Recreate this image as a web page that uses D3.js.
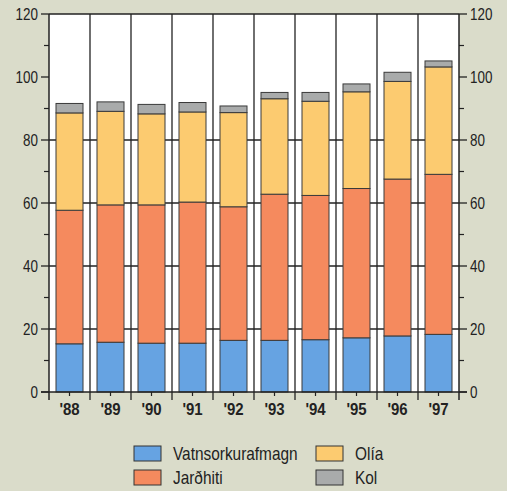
<!doctype html>
<html>
<head>
<meta charset="utf-8">
<style>
  body { margin: 0; background: #dadcca; }
  svg { display: block; }
  text { font-family: "Liberation Sans", Arial, sans-serif; fill: #222; }
</style>
<script src="https://d3js.org/d3.v7.min.js"></script>
</head>
<body>
<svg id="svg" width="507" height="491"></svg>
<script>
// data
var years = ["'88", "'89", "'90", "'91", "'92", "'93", "'94", "'95", "'96", "'97"];
var vatnsorka = [15.3, 15.8, 15.5, 15.5, 16.4, 16.4, 16.6, 17.2, 17.8, 18.3];
var jardhiti  = [42.4, 43.6, 43.9, 44.8, 42.4, 46.4, 45.8, 47.4, 49.8, 50.8];
var olia      = [30.9, 29.7, 28.9, 28.6, 29.9, 30.3, 29.9, 30.7, 31.0, 34.1];
var kol       = [3.0, 3.0, 3.0, 3.0, 2.1, 2.0, 2.8, 2.5, 2.9, 1.9];
var seriesNames = ["Vatnsorkurafmagn", "Jarðhiti", "Olía", "Kol"];
var colors = ["#66a3e2", "#f58a5e", "#fccb70", "#a9abab"];
var yTicks = [0, 20, 40, 60, 80, 100, 120];

var svg = d3.select("#svg");
var pLeft = 49, pRight = 459, pTop = 14, pBottom = 392;
var sx = 0.84; // squeeze text like the condensed face in the original

var x = d3.scaleBand().domain(years).range([pLeft, pRight]).paddingInner(0).paddingOuter(0);
var y = d3.scaleLinear().domain([0, 120]).range([pBottom, pTop]);

var table = years.map(function(yr, i) {
  return { year: yr, v: vatnsorka[i], j: jardhiti[i], o: olia[i], k: kol[i] };
});
var stack = d3.stack().keys(["v", "j", "o", "k"])(table);

function pos(px, py, s) { return "translate(" + px + "," + py + ") scale(" + (s || sx) + ",1)"; }

// plot background
svg.append("rect")
  .attr("x", pLeft).attr("y", pTop)
  .attr("width", pRight - pLeft).attr("height", pBottom - pTop)
  .attr("fill", "#fff");

// horizontal grid lines
svg.append("g").selectAll("line")
  .data([20, 40, 60, 80])
  .enter().append("line")
  .attr("x1", pLeft).attr("x2", pRight)
  .attr("y1", function(d) { return y(d); })
  .attr("y2", function(d) { return y(d); })
  .attr("stroke", "#222").attr("stroke-width", 1.3);

// vertical separators between years
svg.append("g").selectAll("line")
  .data(years.slice(1))
  .enter().append("line")
  .attr("x1", function(d) { return x(d); })
  .attr("x2", function(d) { return x(d); })
  .attr("y1", pTop).attr("y2", pBottom + 8)
  .attr("stroke", "#222").attr("stroke-width", 1.3);

// bars
var barW = 27;
svg.append("g").selectAll("g")
  .data(stack)
  .enter().append("g")
  .attr("fill", function(d, i) { return colors[i]; })
  .selectAll("rect")
  .data(function(d) { return d; })
  .enter().append("rect")
  .attr("x", function(d) { return x(d.data.year) + (x.bandwidth() - barW) / 2; })
  .attr("y", function(d) { return y(d[1]); })
  .attr("width", barW)
  .attr("height", function(d) { return y(d[0]) - y(d[1]); })
  .attr("stroke", "#3a3a3a").attr("stroke-width", 1);

// top border
svg.append("line")
  .attr("x1", pLeft).attr("x2", pRight)
  .attr("y1", pTop).attr("y2", pTop)
  .attr("stroke", "#222").attr("stroke-width", 1.3);

// axes
var minor = d3.range(10, 120, 20);
var ax = svg.append("g");
ax.append("line").attr("x1", pLeft).attr("x2", pLeft).attr("y1", pTop).attr("y2", pBottom + 8)
  .attr("stroke", "#222").attr("stroke-width", 1.5);
ax.append("line").attr("x1", pRight).attr("x2", pRight).attr("y1", pTop).attr("y2", pBottom + 8)
  .attr("stroke", "#222").attr("stroke-width", 1.5);
ax.append("line").attr("x1", pLeft - 8).attr("x2", pRight + 8).attr("y1", pBottom).attr("y2", pBottom)
  .attr("stroke", "#222").attr("stroke-width", 1.5);

ax.selectAll(".tl").data(yTicks).enter().append("line")
  .attr("x1", pLeft - 8).attr("x2", pLeft)
  .attr("y1", function(d) { return y(d); }).attr("y2", function(d) { return y(d); })
  .attr("stroke", "#222").attr("stroke-width", 1.3);
ax.selectAll(".tr").data(yTicks).enter().append("line")
  .attr("x1", pRight).attr("x2", pRight + 8)
  .attr("y1", function(d) { return y(d); }).attr("y2", function(d) { return y(d); })
  .attr("stroke", "#222").attr("stroke-width", 1.3);
ax.selectAll(".ml").data(minor).enter().append("line")
  .attr("x1", pLeft - 5).attr("x2", pLeft)
  .attr("y1", function(d) { return y(d); }).attr("y2", function(d) { return y(d); })
  .attr("stroke", "#222").attr("stroke-width", 1.2);
ax.selectAll(".mr").data(minor).enter().append("line")
  .attr("x1", pRight).attr("x2", pRight + 5)
  .attr("y1", function(d) { return y(d); }).attr("y2", function(d) { return y(d); })
  .attr("stroke", "#222").attr("stroke-width", 1.2);

ax.selectAll(".ll").data(yTicks).enter().append("text")
  .attr("transform", function(d) { return pos(pLeft - 11, y(d) + 6); })
  .attr("text-anchor", "end").attr("font-size", 16)
  .text(function(d) { return d; });
ax.selectAll(".lr").data(yTicks).enter().append("text")
  .attr("transform", function(d) { return pos(pRight + 11, y(d) + 6); })
  .attr("text-anchor", "start").attr("font-size", 16)
  .text(function(d) { return d; });

// small ticks at bar centres and year labels
ax.selectAll(".ct").data(years).enter().append("line")
  .attr("x1", function(d) { return x(d) + x.bandwidth() / 2; })
  .attr("x2", function(d) { return x(d) + x.bandwidth() / 2; })
  .attr("y1", pBottom).attr("y2", pBottom + 4)
  .attr("stroke", "#222").attr("stroke-width", 1.2);
ax.selectAll(".yl").data(years).enter().append("text")
  .attr("transform", function(d) { return pos(x(d) + x.bandwidth() / 2, pBottom + 23, 0.88); })
  .attr("text-anchor", "middle").attr("font-size", 17).attr("font-weight", "bold")
  .text(function(d) { return d; });

// legend
var legPos = [[134, 446], [134, 470], [316, 446], [316, 470]];
var leg = svg.append("g").selectAll("g")
  .data(seriesNames)
  .enter().append("g")
  .attr("transform", function(d, i) { return "translate(" + legPos[i][0] + "," + legPos[i][1] + ")"; });
leg.append("rect")
  .attr("width", 27).attr("height", 15)
  .attr("fill", function(d, i) { return colors[i]; })
  .attr("stroke", "#333").attr("stroke-width", 1);
leg.append("text")
  .attr("transform", pos(39, 13.5, 0.88))
  .attr("font-size", 17.5)
  .text(function(d) { return d; });
</script>
</body>
</html>
